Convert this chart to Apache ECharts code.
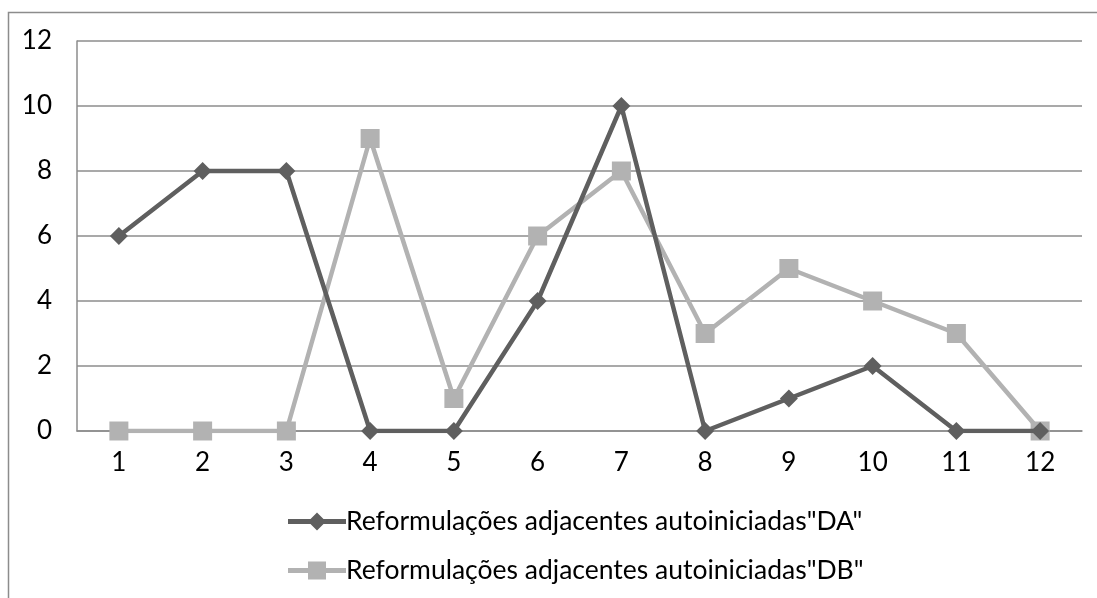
<!DOCTYPE html>
<html>
<head>
<meta charset="utf-8">
<script src="https://cdn.jsdelivr.net/npm/echarts@6/dist/echarts.min.js"></script>
<style>
  html, body { margin: 0; padding: 0; background: #fff; }
  #chart { width: 1097px; height: 598px; }
</style>
</head>
<body>
<div id="chart"></div>
<script>
// Categories and values for the two series
const categories = ['1', '2', '3', '4', '5', '6', '7', '8', '9', '10', '11', '12'];
const seriesDA = [6, 8, 8, 0, 0, 4, 10, 0, 1, 2, 0, 0];
const seriesDB = [0, 0, 0, 9, 1, 6, 8, 3, 5, 4, 3, 0];
const nameDA = 'Reformulações adjacentes autoiniciadas"DA"';
const nameDB = 'Reformulações adjacentes autoiniciadas"DB"';

const FONT = 'Lato';
const colorDA = '#5f5f5f';
const colorDB = '#b2b2b2';

// Legend icons: a thick line segment with the series marker in the middle
const iconDA = 'path://M0,6.5L58,6.5L58,11.5L0,11.5Z M29,0L38,9L29,18L20,9Z';
const iconDB = 'path://M0,6.5L58,6.5L58,11.5L0,11.5Z M20,0L38,0L38,18L20,18Z';

const chart = echarts.init(document.getElementById('chart'));

chart.setOption({
  animation: false,
  backgroundColor: '#fff',
  graphic: [{
    type: 'rect',
    shape: { x: 8.5, y: 12.5, width: 1200, height: 700 },
    style: { fill: 'none', stroke: '#8c8c8c', lineWidth: 1.5 },
    silent: true
  }],
  grid: { left: 77, right: 15, top: 41, bottom: 167, containLabel: false },
  legend: {
    orient: 'vertical',
    left: 283,
    top: 503,
    itemGap: 22,
    itemWidth: 58,
    itemHeight: 18,
    textStyle: { fontFamily: FONT, fontSize: 26.5, color: '#000', padding: [0, 0, 0, -5] },
    data: [
      { name: nameDA, icon: iconDA },
      { name: nameDB, icon: iconDB }
    ]
  },
  xAxis: {
    type: 'category',
    data: categories,
    boundaryGap: true,
    axisLine: { show: true, lineStyle: { color: '#8c8c8c', width: 1.5 } },
    axisTick: { show: false },
    axisLabel: { fontFamily: FONT, fontSize: 26, color: '#000', margin: 19 },
    splitLine: { show: false }
  },
  yAxis: {
    type: 'value',
    min: 0,
    max: 12,
    interval: 2,
    axisLine: { show: true, lineStyle: { color: '#8c8c8c', width: 1.5 } },
    axisTick: { show: false },
    axisLabel: { fontFamily: FONT, fontSize: 26, color: '#000', margin: 25 },
    splitLine: { show: true, lineStyle: { color: '#8c8c8c', width: 1.5 } }
  },
  series: [
    {
      name: nameDA,
      type: 'line',
      data: seriesDA,
      symbol: 'diamond',
      symbolSize: 18,
      lineStyle: { color: colorDA, width: 4.5 },
      itemStyle: { color: colorDA },
      z: 3
    },
    {
      name: nameDB,
      type: 'line',
      data: seriesDB,
      symbol: 'rect',
      symbolSize: 19,
      lineStyle: { color: colorDB, width: 4.5 },
      itemStyle: { color: colorDB },
      z: 2
    }
  ]
});
</script>
</body>
</html>
